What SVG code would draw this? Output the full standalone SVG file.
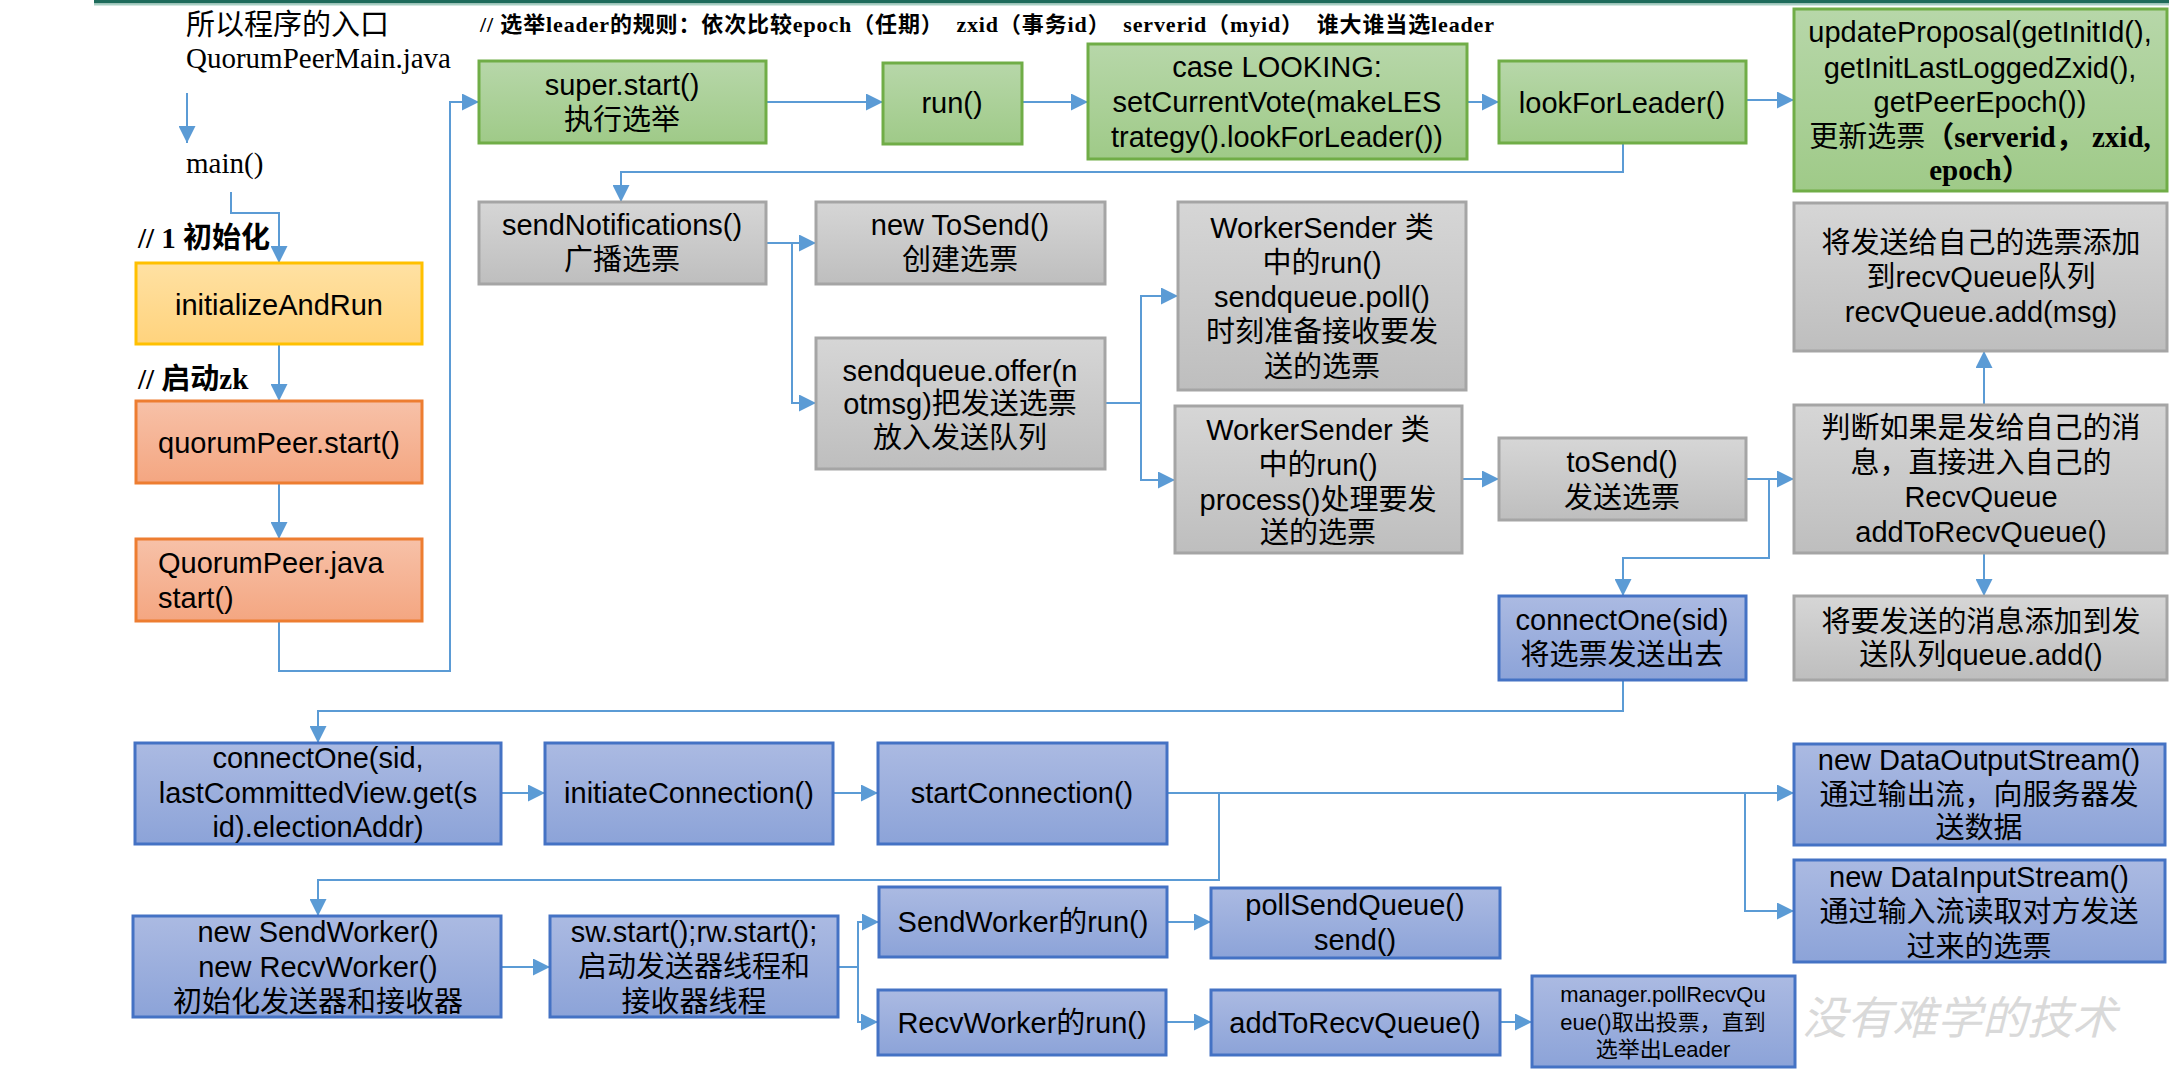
<svg xmlns="http://www.w3.org/2000/svg" width="2169" height="1080" viewBox="0 0 2169 1080">
<style>
.t{font-family:"Liberation Sans","Noto Sans CJK SC",sans-serif;font-size:29px;fill:#000;text-anchor:middle}
.tl{font-family:"Liberation Sans","Noto Sans CJK SC",sans-serif;font-size:29px;fill:#000}
.s{font-family:"Liberation Serif","Noto Sans CJK SC",serif;font-size:29px;fill:#000}
.sb{font-family:"Liberation Serif","Noto Sans CJK SC",serif;font-size:29px;font-weight:bold;fill:#000}
.c{fill:none;stroke:#5B9BD5;stroke-width:2}
.ca{fill:none;stroke:#5B9BD5;stroke-width:2;marker-end:url(#ah)}
.g{fill:url(#gG);stroke:#70AD47;stroke-width:3}
.y{fill:url(#gY);stroke:#FFC000;stroke-width:3}
.o{fill:url(#gO);stroke:#ED7D31;stroke-width:3}
.r{fill:url(#gR);stroke:#A5A5A5;stroke-width:3}
.b{fill:url(#gB);stroke:#4472C4;stroke-width:3}
</style>
<defs>
<marker id="ah" markerUnits="userSpaceOnUse" markerWidth="17" markerHeight="17" refX="17" refY="8.5" orient="auto"><path d="M0,0 L17,8.5 L0,17 z" fill="#5B9BD5"/></marker>
<linearGradient id="gG" x1="0" y1="0" x2="0" y2="1"><stop offset="0" stop-color="#B7D7A9"/><stop offset="1" stop-color="#9FCA88"/></linearGradient>
<linearGradient id="gY" x1="0" y1="0" x2="0" y2="1"><stop offset="0" stop-color="#FFE1A3"/><stop offset="1" stop-color="#FFD37D"/></linearGradient>
<linearGradient id="gO" x1="0" y1="0" x2="0" y2="1"><stop offset="0" stop-color="#F7C1A8"/><stop offset="1" stop-color="#F4A681"/></linearGradient>
<linearGradient id="gR" x1="0" y1="0" x2="0" y2="1"><stop offset="0" stop-color="#D6D6D6"/><stop offset="1" stop-color="#BEBEBE"/></linearGradient>
<linearGradient id="gB" x1="0" y1="0" x2="0" y2="1"><stop offset="0" stop-color="#ABBAE2"/><stop offset="1" stop-color="#8CA3D8"/></linearGradient>
</defs>
<rect x="0" y="0" width="2169" height="1080" fill="#fff"/>
<rect x="94" y="0" width="2075" height="3.5" fill="#1E6B5B"/>
<rect x="94" y="3.5" width="2075" height="2" fill="#A9D0C4"/>

<text id="header" class="sb" style="font-size:22px" x="480" y="32" textLength="1014" lengthAdjust="spacing" xml:space="preserve">// 选举leader的规则：依次比较epoch（任期）  zxid（事务id）  serverid（myid）  谁大谁当选leader</text>
<text id="watermark" x="1802" y="1034" style="font-family:'Noto Sans CJK SC',sans-serif;font-size:45px;fill:#D9D9D9;font-style:italic">没有难学的技术</text>

<g id="connectors">
<path class="ca" d="M187,93 V143"/>
<path class="ca" d="M231,192 V213 H279 V263"/>
<path class="ca" d="M279,344 V401"/>
<path class="ca" d="M279,483 V539"/>
<path class="ca" d="M279,621 V671 H450 V102 H479"/>
<path class="ca" d="M766,102 H883"/>
<path class="ca" d="M1022,102 H1088"/>
<path class="ca" d="M1467,102 H1499"/>
<path class="ca" d="M1746,100 H1794"/>
<path class="ca" d="M1623,143 V172 H621 V202"/>
<path class="ca" d="M766,243 H816"/>
<path class="ca" d="M792,243 V403 H816"/>
<path class="ca" d="M1105,403 H1141 V296 H1178"/>
<path class="ca" d="M1141,403 V480 H1175"/>
<path class="ca" d="M1462,479 H1499"/>
<path class="ca" d="M1746,479 H1794"/>
<path class="ca" d="M1769,479 V558 H1623 V596"/>
<path class="ca" d="M1984,405 V351"/>
<path class="ca" d="M1984,553 V596"/>
<path class="ca" d="M1623,680 V711 H318 V743"/>
<path class="ca" d="M500,793 H545"/>
<path class="ca" d="M833,793 H878"/>
<path class="ca" d="M1167,793 H1794"/>
<path class="ca" d="M1219,793 V880 H318 V916"/>
<path class="ca" d="M1745,793 V911 H1794"/>
<path class="ca" d="M501,967 H550"/>
<path class="ca" d="M838,967 H858 V922 H879"/>
<path class="ca" d="M858,967 V1022 H878"/>
<path class="ca" d="M1167,922 H1211"/>
<path class="ca" d="M1166,1022 H1211"/>
<path class="ca" d="M1500,1022 H1532"/>
</g>

<g id="entry"><text class="s" x="186" y="35">所以程序的入口</text><text class="s" x="186" y="68">QuorumPeerMain.java</text></g>
<g id="main"><text class="s" x="186" y="173">main()</text></g>
<g id="note-init"><text class="sb" x="138" y="248">// 1 初始化</text></g>
<g id="initializeAndRun"><rect class="y" x="136" y="263" width="286" height="81"/><text class="t" x="279" y="315">initializeAndRun</text></g>
<g id="note-start"><text class="sb" x="138" y="389">// 启动zk</text></g>
<g id="quorumPeerStart"><rect class="o" x="136" y="401" width="286" height="82"/><text class="t" x="279" y="453">quorumPeer.start()</text></g>
<g id="quorumPeerJava"><rect class="o" x="136" y="539" width="286" height="82"/><text class="tl" x="158" y="573">QuorumPeer.java</text><text class="tl" x="158" y="608">start()</text></g>

<g id="superStart"><rect class="g" x="479" y="61" width="287" height="82"/><text class="t" x="622" y="95">super.start()</text><text class="t" x="622" y="130">执行选举</text></g>
<g id="run"><rect class="g" x="883" y="63" width="139" height="81"/><text class="t" x="952" y="113">run()</text></g>
<g id="caseLooking"><rect class="g" x="1088" y="44" width="379" height="115"/><text class="t" x="1277" y="77">case LOOKING:</text><text class="t" x="1277" y="112">setCurrentVote(makeLES</text><text class="t" x="1277" y="147">trategy().lookForLeader())</text></g>
<g id="lookForLeader"><rect class="g" x="1499" y="61" width="247" height="82"/><text class="t" x="1622" y="113">lookForLeader()</text></g>
<g id="updateProposal"><rect class="g" x="1794" y="9" width="373" height="182"/><text class="t" x="1980" y="42">updateProposal(getInitId(),</text><text class="t" x="1980" y="78">getInitLastLoggedZxid(),</text><text class="t" x="1980" y="112">getPeerEpoch())</text><text class="t" x="1980" y="147">更新选票<tspan style="font-family:'Liberation Serif','Noto Sans CJK SC',serif;font-weight:bold">（serverid， zxid,</tspan></text><text class="t" x="1980" y="180" style="font-family:'Liberation Serif','Noto Sans CJK SC',serif;font-weight:bold">epoch）</text></g>

<g id="sendNotifications"><rect class="r" x="479" y="202" width="287" height="82"/><text class="t" x="622" y="235">sendNotifications()</text><text class="t" x="622" y="270">广播选票</text></g>
<g id="newToSend"><rect class="r" x="816" y="202" width="289" height="82"/><text class="t" x="960" y="235">new ToSend()</text><text class="t" x="960" y="270">创建选票</text></g>
<g id="sendqueueOffer"><rect class="r" x="816" y="338" width="289" height="131"/><text class="t" x="960" y="381">sendqueue.offer(n</text><text class="t" x="960" y="414">otmsg)把发送选票</text><text class="t" x="960" y="448">放入发送队列</text></g>
<g id="workerSenderPoll"><rect class="r" x="1178" y="202" width="288" height="188"/><text class="t" x="1322" y="238">WorkerSender 类</text><text class="t" x="1322" y="273">中的run()</text><text class="t" x="1322" y="307">sendqueue.poll()</text><text class="t" x="1322" y="342">时刻准备接收要发</text><text class="t" x="1322" y="377">送的选票</text></g>
<g id="workerSenderProcess"><rect class="r" x="1175" y="406" width="287" height="147"/><text class="t" x="1318" y="440">WorkerSender 类</text><text class="t" x="1318" y="475">中的run()</text><text class="t" x="1318" y="510">process()处理要发</text><text class="t" x="1318" y="543">送的选票</text></g>
<g id="toSend"><rect class="r" x="1499" y="438" width="247" height="82"/><text class="t" x="1622" y="472">toSend()</text><text class="t" x="1622" y="508">发送选票</text></g>
<g id="recvQueueAdd"><rect class="r" x="1794" y="203" width="373" height="148"/><text class="t" x="1981" y="253">将发送给自己的选票添加</text><text class="t" x="1981" y="287">到recvQueue队列</text><text class="t" x="1981" y="322">recvQueue.add(msg)</text></g>
<g id="judgeSelf"><rect class="r" x="1794" y="405" width="373" height="148"/><text class="t" x="1981" y="438">判断如果是发给自己的消</text><text class="t" x="1981" y="473">息，直接进入自己的</text><text class="t" x="1981" y="507">RecvQueue</text><text class="t" x="1981" y="542">addToRecvQueue()</text></g>
<g id="queueAdd"><rect class="r" x="1794" y="596" width="373" height="84"/><text class="t" x="1981" y="632">将要发送的消息添加到发</text><text class="t" x="1981" y="665">送队列queue.add()</text></g>
<g id="connectOneSid"><rect class="b" x="1499" y="596" width="247" height="84"/><text class="t" x="1622" y="630">connectOne(sid)</text><text class="t" x="1622" y="665">将选票发送出去</text></g>

<g id="connectOneAddr"><rect class="b" x="135" y="743" width="366" height="101"/><text class="t" x="318" y="768">connectOne(sid,</text><text class="t" x="318" y="803">lastCommittedView.get(s</text><text class="t" x="318" y="837">id).electionAddr)</text></g>
<g id="initiateConnection"><rect class="b" x="545" y="743" width="288" height="101"/><text class="t" x="689" y="803">initiateConnection()</text></g>
<g id="startConnection"><rect class="b" x="878" y="743" width="289" height="101"/><text class="t" x="1022" y="803">startConnection()</text></g>
<g id="dataOutput"><rect class="b" x="1794" y="744" width="371" height="101"/><text class="t" x="1979" y="770">new DataOutputStream()</text><text class="t" x="1979" y="805">通过输出流，向服务器发</text><text class="t" x="1979" y="838">送数据</text></g>
<g id="dataInput"><rect class="b" x="1794" y="860" width="371" height="102"/><text class="t" x="1979" y="887">new DataInputStream()</text><text class="t" x="1979" y="922">通过输入流读取对方发送</text><text class="t" x="1979" y="957">过来的选票</text></g>
<g id="newWorkers"><rect class="b" x="133" y="916" width="368" height="101"/><text class="t" x="318" y="942">new SendWorker()</text><text class="t" x="318" y="977">new RecvWorker()</text><text class="t" x="318" y="1012">初始化发送器和接收器</text></g>
<g id="swStart"><rect class="b" x="550" y="916" width="288" height="101"/><text class="t" x="694" y="942">sw.start();rw.start();</text><text class="t" x="694" y="977">启动发送器线程和</text><text class="t" x="694" y="1012">接收器线程</text></g>
<g id="sendWorkerRun"><rect class="b" x="879" y="887" width="288" height="70"/><text class="t" x="1023" y="932">SendWorker的run()</text></g>
<g id="recvWorkerRun"><rect class="b" x="878" y="990" width="288" height="65"/><text class="t" x="1022" y="1033">RecvWorker的run()</text></g>
<g id="pollSendQueue"><rect class="b" x="1211" y="888" width="289" height="70"/><text class="t" x="1355" y="915">pollSendQueue()</text><text class="t" x="1355" y="950">send()</text></g>
<g id="addToRecvQueue"><rect class="b" x="1211" y="990" width="289" height="65"/><text class="t" x="1355" y="1033">addToRecvQueue()</text></g>
<g id="manager"><rect class="b" x="1532" y="976" width="263" height="91"/><text class="t" style="font-size:22px" x="1663" y="1002">manager.pollRecvQu</text><text class="t" style="font-size:22px" x="1663" y="1030">eue()取出投票，直到</text><text class="t" style="font-size:22px" x="1663" y="1057">选举出Leader</text></g>
</svg>
